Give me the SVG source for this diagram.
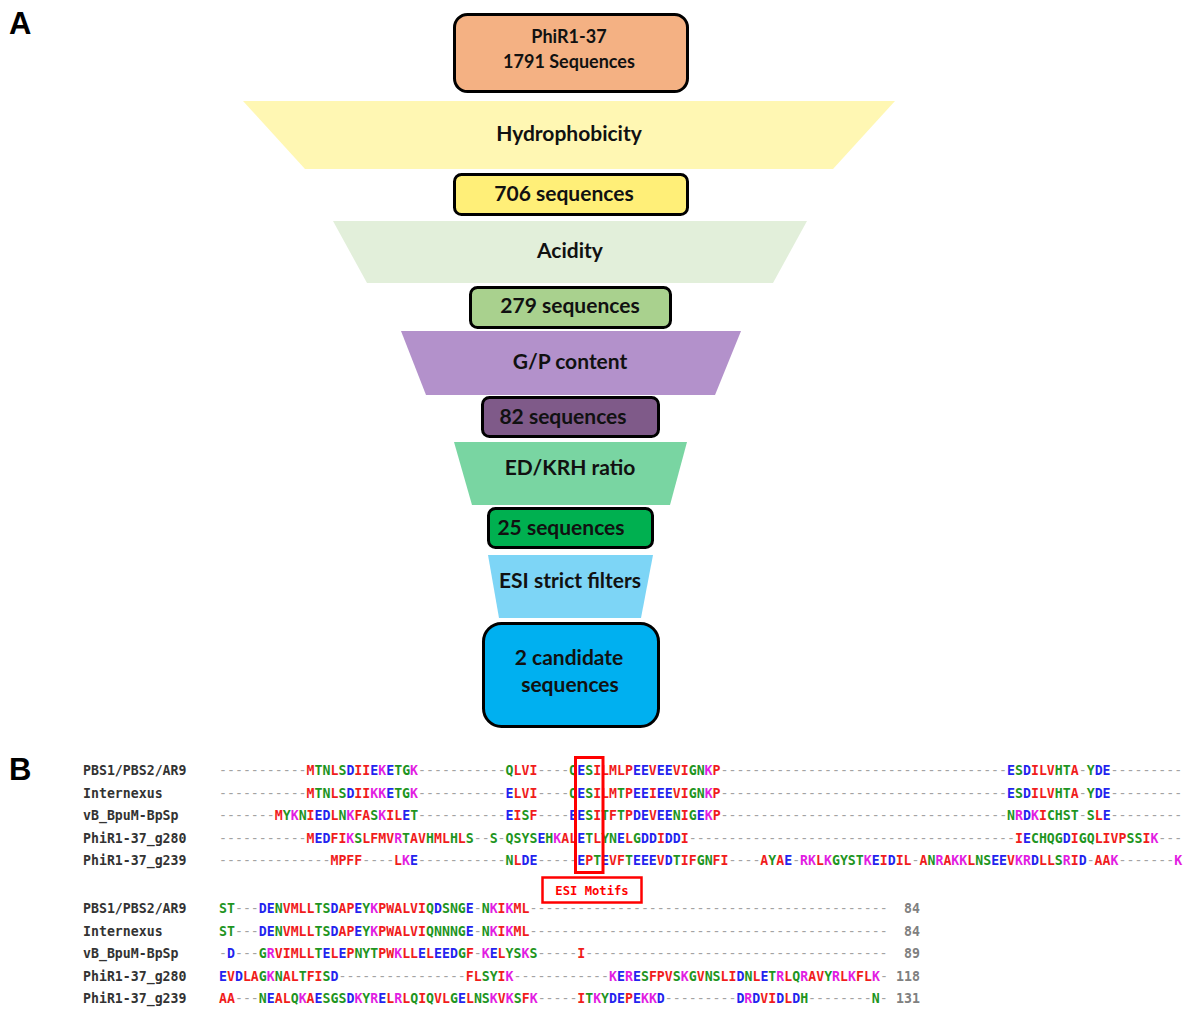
<svg xmlns="http://www.w3.org/2000/svg" width="1186" height="1010" viewBox="0 0 1186 1010">
<style>
.fun{font-family:Lato,'Open Sans',sans-serif;font-weight:700;fill:#111;text-anchor:middle}
.f21{font-size:21px}.f18{font-size:18px}
.box{stroke:#000;stroke-width:3}
.panel{font-family:'Liberation Sans',Arial,sans-serif;font-weight:700;font-size:31px;fill:#000}
.seq{font-family:'DejaVu Sans Mono','Liberation Mono',monospace;font-size:13.22px;fill:#a3a3a3}
.seq tspan{font-weight:700}
.lab{font-family:'DejaVu Sans Mono','Liberation Mono',monospace;font-size:13.22px;fill:#333;font-weight:700}
.num{font-family:'DejaVu Sans Mono','Liberation Mono',monospace;font-size:13.22px;fill:#808080;font-weight:700;text-anchor:end}
.r{fill:#f01c1c}.b{fill:#2323ee}.m{fill:#e21de2}.g{fill:#1f951f}
.motif{fill:none;stroke:#f00;stroke-width:3}
</style>
<rect width="1186" height="1010" fill="#fff"/>
<text class="panel" x="9" y="34">A</text>
<text class="panel" x="9" y="780">B</text>
<g id="connectors"></g>
<g id="n-start"><rect class="box" x="454.5" y="14.5" width="233" height="77" rx="13" fill="#F4B183"/><text class="fun f18" x="569" y="43">PhiR1-37</text><text class="fun f18" x="569" y="68">1791 Sequences</text></g>
<g id="f-hydro"><polygon points="243,101 895,101 833,169 305,169" fill="#FFF7B3"/><text class="fun f21" x="569" y="141">Hydrophobicity</text></g>
<g id="n-706"><rect class="box" x="454.5" y="174.5" width="233" height="40" rx="7" fill="#FFEF78"/><text class="fun f21" x="564" y="201">706 sequences</text></g>
<g id="f-acid"><polygon points="333,221 807,221 773,283 367,283" fill="#E2EFDA"/><text class="fun f21" x="570" y="258">Acidity</text></g>
<g id="n-279"><rect class="box" x="470.5" y="287.5" width="200" height="40" rx="7" fill="#A9D18E"/><text class="fun f21" x="570" y="313">279 sequences</text></g>
<g id="f-gp"><polygon points="401,331 741,331 715,395 426,395" fill="#B391CB"/><text class="fun f21" x="570" y="369">G/P content</text></g>
<g id="n-82"><rect class="box" x="482.5" y="397.5" width="176" height="39" rx="7" fill="#7F5A89"/><text class="fun f21" x="563" y="424">82 sequences</text></g>
<g id="f-edkrh"><polygon points="454,442 687,442 670,505 472,505" fill="#79D5A2"/><text class="fun f21" x="570" y="475">ED/KRH ratio</text></g>
<g id="n-25"><rect class="box" x="488.5" y="508.5" width="164" height="39" rx="7" fill="#00B050"/><text class="fun f21" x="561" y="535">25 sequences</text></g>
<g id="f-esi"><polygon points="488,555 653,555 641,618 499,618" fill="#7DD5F6"/><text class="fun f21" x="570" y="588">ESI strict filters</text></g>
<g id="n-final"><rect class="box" x="483.5" y="623.5" width="175" height="103" rx="18" fill="#00B0F0"/><text class="fun f21" x="569" y="665">2 candidate</text><text class="fun f21" x="570" y="692">sequences</text></g>
<g id="alignment-top">
<text class="lab" x="83" y="775">PBS1/PBS2/AR9</text>
<text class="lab" x="83" y="797.5">Internexus</text>
<text class="lab" x="83" y="820">vB_BpuM-BpSp</text>
<text class="lab" x="83" y="842.5">PhiR1-37_g280</text>
<text class="lab" x="83" y="865">PhiR1-37_g239</text>
<text class="seq" x="219" y="775">-----------<tspan x="306.56" class="r">M</tspan><tspan class="g">TN</tspan><tspan class="r">L</tspan><tspan class="g">S</tspan><tspan class="b">D</tspan><tspan class="r">II</tspan><tspan class="b">E</tspan><tspan class="m">K</tspan><tspan class="b">E</tspan><tspan class="g">TG</tspan><tspan class="m">K</tspan>-----------<tspan x="505.56" class="g">Q</tspan><tspan class="r">LVI</tspan>----<tspan x="569.24" class="g">Q</tspan><tspan class="b">E</tspan><tspan class="g">S</tspan><tspan class="r">ILMLP</tspan><tspan class="b">EE</tspan><tspan class="r">V</tspan><tspan class="b">EE</tspan><tspan class="r">VI</tspan><tspan class="g">GN</tspan><tspan class="m">K</tspan><tspan class="r">P</tspan>------------------------------------<tspan x="1007.04" class="b">E</tspan><tspan class="g">S</tspan><tspan class="b">D</tspan><tspan class="r">ILV</tspan><tspan class="g">HT</tspan><tspan class="r">A</tspan>-<tspan class="g">Y</tspan><tspan class="b">DE</tspan>---------</text>
<text class="seq" x="219" y="797.5">-----------<tspan x="306.56" class="r">M</tspan><tspan class="g">TN</tspan><tspan class="r">L</tspan><tspan class="g">S</tspan><tspan class="b">D</tspan><tspan class="r">II</tspan><tspan class="m">KK</tspan><tspan class="b">E</tspan><tspan class="g">TG</tspan><tspan class="m">K</tspan>-----------<tspan x="505.56" class="b">E</tspan><tspan class="r">LVI</tspan>----<tspan x="569.24" class="g">Q</tspan><tspan class="b">E</tspan><tspan class="g">S</tspan><tspan class="r">ILM</tspan><tspan class="g">T</tspan><tspan class="r">P</tspan><tspan class="b">EE</tspan><tspan class="r">I</tspan><tspan class="b">EE</tspan><tspan class="r">VI</tspan><tspan class="g">GN</tspan><tspan class="m">K</tspan><tspan class="r">P</tspan>------------------------------------<tspan x="1007.04" class="b">E</tspan><tspan class="g">S</tspan><tspan class="b">D</tspan><tspan class="r">ILV</tspan><tspan class="g">HT</tspan><tspan class="r">A</tspan>-<tspan class="g">Y</tspan><tspan class="b">DE</tspan>---------</text>
<text class="seq" x="219" y="820">-------<tspan x="274.72" class="r">M</tspan><tspan class="g">Y</tspan><tspan class="m">K</tspan><tspan class="g">N</tspan><tspan class="r">I</tspan><tspan class="b">ED</tspan><tspan class="r">L</tspan><tspan class="g">N</tspan><tspan class="m">K</tspan><tspan class="r">FA</tspan><tspan class="g">S</tspan><tspan class="m">K</tspan><tspan class="r">IL</tspan><tspan class="b">E</tspan><tspan class="g">T</tspan>-----------<tspan x="505.56" class="b">E</tspan><tspan class="r">I</tspan><tspan class="g">S</tspan><tspan class="r">F</tspan>----<tspan x="569.24" class="b">EE</tspan><tspan class="g">S</tspan><tspan class="r">I</tspan><tspan class="g">T</tspan><tspan class="r">F</tspan><tspan class="g">T</tspan><tspan class="r">P</tspan><tspan class="b">DE</tspan><tspan class="r">V</tspan><tspan class="b">EE</tspan><tspan class="g">N</tspan><tspan class="r">I</tspan><tspan class="g">G</tspan><tspan class="b">E</tspan><tspan class="m">K</tspan><tspan class="r">P</tspan>------------------------------------<tspan x="1007.04" class="g">N</tspan><tspan class="m">R</tspan><tspan class="b">D</tspan><tspan class="m">K</tspan><tspan class="r">I</tspan><tspan class="g">CHST</tspan>-<tspan class="g">S</tspan><tspan class="r">L</tspan><tspan class="b">E</tspan>---------</text>
<text class="seq" x="219" y="842.5">-----------<tspan x="306.56" class="r">M</tspan><tspan class="b">ED</tspan><tspan class="r">FI</tspan><tspan class="m">K</tspan><tspan class="g">S</tspan><tspan class="r">LFMV</tspan><tspan class="m">R</tspan><tspan class="g">T</tspan><tspan class="r">AV</tspan><tspan class="g">H</tspan><tspan class="r">ML</tspan><tspan class="g">H</tspan><tspan class="r">L</tspan><tspan class="g">S</tspan>--<tspan x="489.64" class="g">S</tspan>-<tspan x="505.56" class="g">QSYS</tspan><tspan class="b">E</tspan><tspan class="g">H</tspan><tspan class="m">K</tspan><tspan class="r">AL</tspan><tspan class="b">E</tspan><tspan class="g">T</tspan><tspan class="r">L</tspan><tspan class="g">YN</tspan><tspan class="b">E</tspan><tspan class="r">L</tspan><tspan class="g">G</tspan><tspan class="b">DD</tspan><tspan class="r">I</tspan><tspan class="b">DD</tspan><tspan class="r">I</tspan>-----------------------------------------<tspan x="1015" class="r">I</tspan><tspan class="b">E</tspan><tspan class="g">CHQG</tspan><tspan class="b">D</tspan><tspan class="r">I</tspan><tspan class="g">GQ</tspan><tspan class="r">LIVP</tspan><tspan class="g">SS</tspan><tspan class="r">I</tspan><tspan class="m">K</tspan>---</text>
<text class="seq" x="219" y="865">--------------<tspan x="330.44" class="r">MPFF</tspan>----<tspan x="394.12" class="r">L</tspan><tspan class="m">K</tspan><tspan class="b">E</tspan>-----------<tspan x="505.56" class="g">N</tspan><tspan class="r">L</tspan><tspan class="b">DE</tspan>-----<tspan x="577.2" class="b">E</tspan><tspan class="r">P</tspan><tspan class="g">T</tspan><tspan class="b">E</tspan><tspan class="r">VF</tspan><tspan class="g">T</tspan><tspan class="b">EEE</tspan><tspan class="r">V</tspan><tspan class="b">D</tspan><tspan class="g">T</tspan><tspan class="r">IF</tspan><tspan class="g">GN</tspan><tspan class="r">FI</tspan>----<tspan x="760.28" class="r">A</tspan><tspan class="g">Y</tspan><tspan class="r">A</tspan><tspan class="b">E</tspan>-<tspan x="800.08" class="m">RK</tspan><tspan class="r">L</tspan><tspan class="m">K</tspan><tspan class="g">GYST</tspan><tspan class="m">K</tspan><tspan class="b">E</tspan><tspan class="r">I</tspan><tspan class="b">D</tspan><tspan class="r">IL</tspan>-<tspan x="919.48" class="r">A</tspan><tspan class="g">N</tspan><tspan class="m">R</tspan><tspan class="r">A</tspan><tspan class="m">KK</tspan><tspan class="r">L</tspan><tspan class="g">NS</tspan><tspan class="b">EE</tspan><tspan class="r">V</tspan><tspan class="m">KR</tspan><tspan class="b">D</tspan><tspan class="r">LL</tspan><tspan class="g">S</tspan><tspan class="m">R</tspan><tspan class="r">I</tspan><tspan class="b">D</tspan>-<tspan x="1094.6" class="r">AA</tspan><tspan class="m">K</tspan>-------<tspan x="1174.2" class="m">K</tspan></text>
</g>
<g id="esi-motifs">
<rect class="motif" x="575.5" y="757.5" width="27.5" height="115"/>
<rect x="542.5" y="877.5" width="99" height="25" fill="#fff" stroke="#f00" stroke-width="2.5"/>
<text x="592" y="894.5" text-anchor="middle" style="font-family:'DejaVu Sans Mono','Liberation Mono',monospace;font-size:12.2px;font-weight:700;fill:#f00">ESI Motifs</text>
</g>
<g id="alignment-bottom">
<text class="lab" x="83" y="913">PBS1/PBS2/AR9</text>
<text class="lab" x="83" y="935.5">Internexus</text>
<text class="lab" x="83" y="958">vB_BpuM-BpSp</text>
<text class="lab" x="83" y="980.5">PhiR1-37_g280</text>
<text class="lab" x="83" y="1003">PhiR1-37_g239</text>
<text class="seq" x="219" y="913"><tspan class="g">ST</tspan>---<tspan x="258.8" class="b">DE</tspan><tspan class="g">N</tspan><tspan class="r">VMLL</tspan><tspan class="g">TS</tspan><tspan class="b">D</tspan><tspan class="r">AP</tspan><tspan class="b">E</tspan><tspan class="g">Y</tspan><tspan class="m">K</tspan><tspan class="r">PWALVI</tspan><tspan class="g">Q</tspan><tspan class="b">D</tspan><tspan class="g">SNG</tspan><tspan class="b">E</tspan>-<tspan x="481.68" class="g">N</tspan><tspan class="m">K</tspan><tspan class="r">I</tspan><tspan class="m">K</tspan><tspan class="r">ML</tspan>---------------------------------------------</text>
<text class="seq" x="219" y="935.5"><tspan class="g">ST</tspan>---<tspan x="258.8" class="b">DE</tspan><tspan class="g">N</tspan><tspan class="r">VMLL</tspan><tspan class="g">TS</tspan><tspan class="b">D</tspan><tspan class="r">AP</tspan><tspan class="b">E</tspan><tspan class="g">Y</tspan><tspan class="m">K</tspan><tspan class="r">PWALVI</tspan><tspan class="g">QNNNG</tspan><tspan class="b">E</tspan>-<tspan x="481.68" class="g">N</tspan><tspan class="m">K</tspan><tspan class="r">I</tspan><tspan class="m">K</tspan><tspan class="r">ML</tspan>---------------------------------------------</text>
<text class="seq" x="219" y="958">-<tspan class="b">D</tspan>---<tspan x="258.8" class="g">G</tspan><tspan class="m">R</tspan><tspan class="r">VIMLL</tspan><tspan class="g">T</tspan><tspan class="b">E</tspan><tspan class="r">L</tspan><tspan class="b">E</tspan><tspan class="r">P</tspan><tspan class="g">NYT</tspan><tspan class="r">PW</tspan><tspan class="m">K</tspan><tspan class="r">LL</tspan><tspan class="b">E</tspan><tspan class="r">L</tspan><tspan class="b">EED</tspan><tspan class="g">G</tspan><tspan class="r">F</tspan>-<tspan x="481.68" class="m">K</tspan><tspan class="b">E</tspan><tspan class="r">L</tspan><tspan class="g">YS</tspan><tspan class="m">K</tspan><tspan class="g">S</tspan>-----<tspan x="577.2" class="r">I</tspan>--------------------------------------</text>
<text class="seq" x="219" y="980.5"><tspan class="b">E</tspan><tspan class="r">V</tspan><tspan class="b">D</tspan><tspan class="r">LA</tspan><tspan class="g">G</tspan><tspan class="m">K</tspan><tspan class="g">N</tspan><tspan class="r">AL</tspan><tspan class="g">T</tspan><tspan class="r">FI</tspan><tspan class="g">S</tspan><tspan class="b">D</tspan>----------------<tspan x="465.76" class="r">FL</tspan><tspan class="g">SY</tspan><tspan class="r">I</tspan><tspan class="m">K</tspan>------------<tspan x="609.04" class="m">K</tspan><tspan class="b">E</tspan><tspan class="m">R</tspan><tspan class="b">E</tspan><tspan class="g">S</tspan><tspan class="r">FPV</tspan><tspan class="g">S</tspan><tspan class="m">K</tspan><tspan class="g">G</tspan><tspan class="r">V</tspan><tspan class="g">NS</tspan><tspan class="r">LI</tspan><tspan class="b">D</tspan><tspan class="g">N</tspan><tspan class="r">L</tspan><tspan class="b">E</tspan><tspan class="g">T</tspan><tspan class="m">R</tspan><tspan class="r">L</tspan><tspan class="g">Q</tspan><tspan class="m">R</tspan><tspan class="r">AV</tspan><tspan class="g">Y</tspan><tspan class="m">R</tspan><tspan class="r">L</tspan><tspan class="m">K</tspan><tspan class="r">FL</tspan><tspan class="m">K</tspan>-</text>
<text class="seq" x="219" y="1003"><tspan class="r">AA</tspan>---<tspan x="258.8" class="g">N</tspan><tspan class="b">E</tspan><tspan class="r">AL</tspan><tspan class="g">Q</tspan><tspan class="m">K</tspan><tspan class="r">A</tspan><tspan class="b">E</tspan><tspan class="g">SGS</tspan><tspan class="b">D</tspan><tspan class="m">K</tspan><tspan class="g">Y</tspan><tspan class="m">R</tspan><tspan class="b">E</tspan><tspan class="r">L</tspan><tspan class="m">R</tspan><tspan class="r">L</tspan><tspan class="g">Q</tspan><tspan class="r">I</tspan><tspan class="g">Q</tspan><tspan class="r">VL</tspan><tspan class="g">G</tspan><tspan class="b">E</tspan><tspan class="r">L</tspan><tspan class="g">NS</tspan><tspan class="m">K</tspan><tspan class="r">V</tspan><tspan class="m">K</tspan><tspan class="g">S</tspan><tspan class="r">F</tspan><tspan class="m">K</tspan>-----<tspan x="577.2" class="r">I</tspan><tspan class="g">T</tspan><tspan class="m">K</tspan><tspan class="g">Y</tspan><tspan class="b">DE</tspan><tspan class="r">P</tspan><tspan class="b">E</tspan><tspan class="m">KK</tspan><tspan class="b">D</tspan>---------<tspan x="736.4" class="b">D</tspan><tspan class="m">R</tspan><tspan class="b">D</tspan><tspan class="r">VI</tspan><tspan class="b">D</tspan><tspan class="r">L</tspan><tspan class="b">D</tspan><tspan class="g">H</tspan>--------<tspan x="871.72" class="g">N</tspan>-</text>
<text class="num" x="920" y="913">84</text>
<text class="num" x="920" y="935.5">84</text>
<text class="num" x="920" y="958">89</text>
<text class="num" x="920" y="980.5">118</text>
<text class="num" x="920" y="1003">131</text>
</g>
</svg>
